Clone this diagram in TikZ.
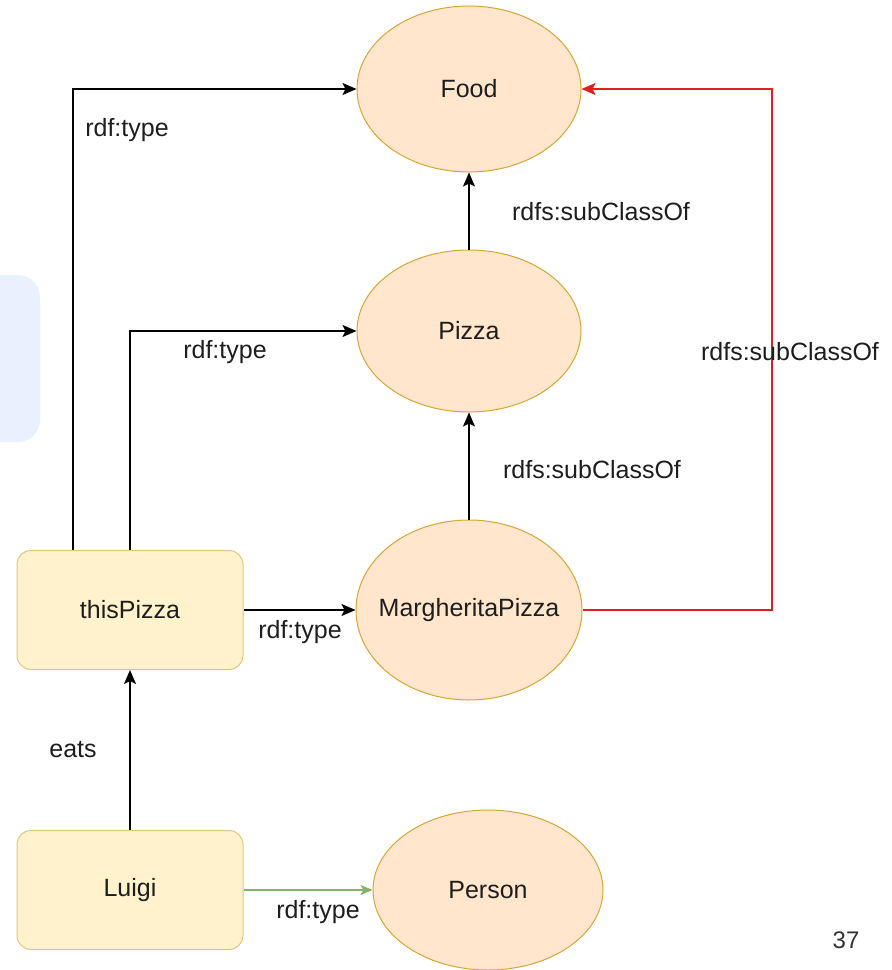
\documentclass[tikz,border=0pt]{standalone}
\usepackage{fontspec}
\setmainfont{Liberation Sans}
\usetikzlibrary{arrows.meta,shapes.geometric}
\definecolor{clsfill}{HTML}{FFE6CC}
\definecolor{clsdraw}{HTML}{D6A636}
\definecolor{indfill}{HTML}{FFF2CC}
\definecolor{inddraw}{HTML}{E0C77A}
\definecolor{txt}{HTML}{1E1E1E}
\definecolor{redline}{HTML}{E02020}
\definecolor{greenline}{HTML}{82B366}
\definecolor{bluebox}{HTML}{E8F1FD}
\tikzset{
  cls/.style={ellipse,draw=clsdraw,fill=clsfill,line width=1pt,inner sep=0pt,text=txt,font=\fontsize{25}{30}\selectfont},
  ind/.style={rectangle,rounded corners=14pt,draw=inddraw,fill=indfill,line width=1pt,minimum width=226pt,minimum height=119pt,inner sep=0pt,text=txt,font=\fontsize{25}{30}\selectfont},
  arr/.style={draw=black,line width=1.6pt,-{Stealth[length=14pt,width=12pt,inset=3pt]}},
  lbl/.style={text=txt,inner sep=0pt,font=\fontsize{25}{30}\selectfont}
}
\begin{document}
\begin{tikzpicture}[x=1pt,y=-1pt]
\useasboundingbox (0,0) rectangle (892,970);
\fill[bluebox,rounded corners=22pt] (-40,275) rectangle (40,442);
% nodes
\node[cls,minimum width=224pt,minimum height=166pt] (food) at (469,89) {\makebox[0pt]{Food}};
\node[cls,minimum width=224pt,minimum height=162pt] (pizza) at (469,331) {\makebox[0pt]{Pizza}};
\node[cls,minimum width=226pt,minimum height=180pt] (marg) at (469,610) {\makebox[0pt]{MargheritaPizza}};
\node[cls,minimum width=230pt,minimum height=160pt] (person) at (488,890) {\makebox[0pt]{Person}};
\node[ind] (thisp) at (130,610) {thisPizza};
\node[ind] (luigi) at (130,890) {Luigi};
% connectors
\draw[arr] (pizza) -- (food);
\draw[arr] (marg) -- (pizza);
\draw[arr] (thisp.east) -- (marg.west);
\draw[arr] (thisp.north) |- (pizza.west);
\draw[arr] ([xshift=-57pt]thisp.north) |- (food.west);
\draw[arr] (luigi) -- (thisp);
\draw[arr,draw=greenline,line width=1.2pt,-{Stealth[length=12pt,width=10pt,inset=3pt]},color=greenline] (luigi.east) -- (person.west);
\coordinate (rc) at (772,350);
\draw[arr,draw=redline,line width=1.3pt,color=redline] (marg.east) -| (rc) |- (food.east);
% labels
\node[lbl] (l1) at (127,130) {rdf:type};
\node[lbl] (l2) at (601,212) {rdfs:subClassOf};
\node[lbl] (l3) at (225,352) {rdf:type};
\node[lbl] (l4) at (592,470) {rdfs:subClassOf};
\node[lbl] (l5) at (790,352) {rdfs:subClassOf};
\node[lbl] (l6) at (300,632) {rdf:type};
\node[lbl] (l7) at (73,750) {eats};
\node[lbl] (l8) at (318,912) {rdf:type};
\node[text=black!80,inner sep=0pt,font=\fontsize{24}{28}\selectfont] (num) at (846,940) {37};
\end{tikzpicture}
\end{document}
